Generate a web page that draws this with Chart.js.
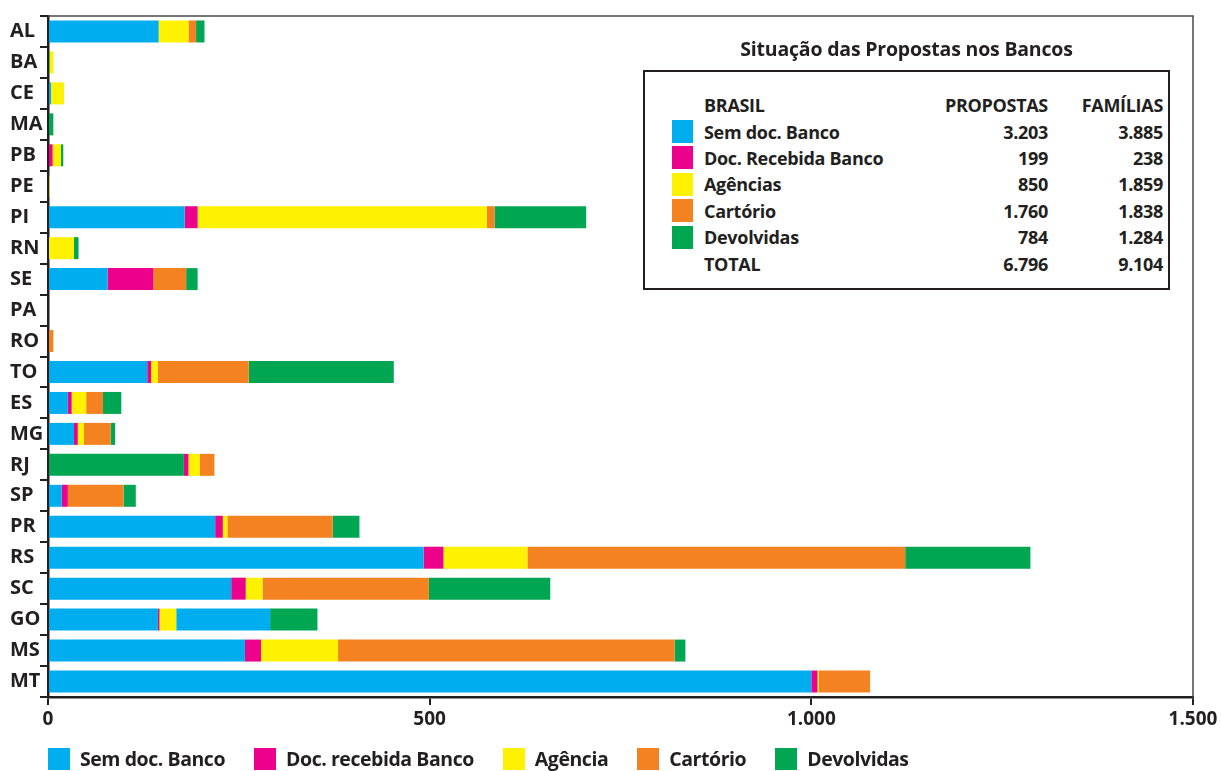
<!DOCTYPE html>
<html lang="pt-BR">
<head>
<meta charset="utf-8">
<title>Situação das Propostas nos Bancos</title>
<script src="https://cdn.jsdelivr.net/npm/chart.js@4.4.1/dist/chart.umd.min.js"></script>
<style>
  html, body { margin: 0; padding: 0; background: #fff; }
  body { width: 1221px; height: 771px; position: relative; overflow: hidden; font-family: "Open Sans", sans-serif; color: #231f20; }
  #grafico { position: absolute; left: 0; top: 0; width: 1221px; height: 771px; }
  #titulo { position: absolute; left: 643px; width: 527px; top: 35px; text-align: center; font-weight: 700; font-size: 19.5px; letter-spacing: -0.2px; }
  #quadro { position: absolute; left: 643px; top: 70px; width: 523px; height: 216px; border: 2px solid #231f20; background: #fff; }
  #quadro table { position: absolute; left: 27px; top: 20px; border-collapse: collapse; font-size: 18px; font-weight: 700; letter-spacing: -0.3px; }
  #quadro td { height: 26.4px; padding: 0; line-height: 1; }
  #quadro td.cor { width: 21px; padding: 0; }
  #quadro td.cor span { display: block; width: 21px; height: 23px; }
  #quadro td.rot { padding-left: 11px; width: 220px; }
  #quadro td.num { text-align: right; }
  #quadro td.c1 { width: 124px; }
  #quadro td.c2 { width: 115px; }
  #legenda { position: absolute; left: 48px; top: 748px; display: flex; font-size: 19.5px; font-weight: 700; letter-spacing: -0.45px; }
  #legenda .item { display: flex; align-items: center; margin-right: 29px; }
  #legenda .item span.q { width: 22px; height: 22px; margin-right: 10px; }
  #legenda .item span.t { line-height: 22px; }
</style>
</head>
<body>
<canvas id="grafico" width="1221" height="771"></canvas>
<div id="titulo">Situação das Propostas nos Bancos</div>
<div id="quadro"><table id="tabela"></table></div>
<div id="legenda"></div>
<script>
// estados, na ordem do eixo
const estados = ['AL', 'BA', 'CE', 'MA', 'PB', 'PE', 'PI', 'RN', 'SE', 'PA', 'RO', 'TO',
                 'ES', 'MG', 'RJ', 'SP', 'PR', 'RS', 'SC', 'GO', 'MS', 'MT'];

// propostas por situação
const semDoc      = [145, 0, 4, 0, 0, 0, 179, 0, 78, 0, 0, 130, 26, 34, 0, 18, 219, 492, 240, 144, 258, 1000];
const docRecebida = [0, 0, 0, 0, 6, 0, 17, 0, 60, 0, 0, 5, 5, 5, 6, 8, 10, 26, 19, 2, 21, 8];
const agencia     = [39, 5, 17, 0, 11, 2, 379, 34, 0, 0, 0, 9, 19, 8, 15, 0, 6, 110, 22, 22, 101, 2];
const cartorio    = [10, 0, 0, 0, 0, 0, 10, 0, 43, 0, 7, 119, 22, 35, 19, 73, 138, 495, 218, 123, 441, 67];
const devolvidas  = [11, 2, 0, 7, 3, 0, 120, 6, 15, 0, 0, 190, 24, 6, 178, 16, 35, 164, 159, 62, 14, 0];

// nesses estados as devolvidas vêm antes das demais na barra
const devolvidasAntes = ['BA', 'RJ'];
// em GO o trecho de cartório sai na cor azul
const cartorioAzul = ['GO'];

const xTicks = [0, 500, 1000, 1500];

// quadro resumo Brasil
const resumoRotulos   = ['Sem doc. Banco', 'Doc. Recebida Banco', 'Agências', 'Cartório', 'Devolvidas'];
const resumoPropostas = [3203, 199, 850, 1760, 784];
const resumoFamilias  = [3885, 238, 1859, 1838, 1284];

const azul = '#00aeef', magenta = '#ec008c', amarelo = '#fff200', laranja = '#f58220', verde = '#00a651';
const tinta = '#231f20';

function fmt(n) {
    return String(n).replace(/\B(?=(\d{3})+(?!\d))/g, '.');
}

var devolvidasInicio = estados.map(function(e, i) {
    return devolvidasAntes.indexOf(e) >= 0 ? devolvidas[i] : 0;
});
var devolvidasFim = estados.map(function(e, i) {
    return devolvidasAntes.indexOf(e) >= 0 ? 0 : devolvidas[i];
});
var corCartorio = estados.map(function(e) {
    return cartorioAzul.indexOf(e) >= 0 ? azul : laranja;
});

// moldura em cima e à direita da área do gráfico
const moldura = {
    id: 'moldura',
    afterDraw: function(chart) {
        const a = chart.chartArea;
        const ctx = chart.ctx;
        ctx.save();
        ctx.strokeStyle = '#4a4a4a';
        ctx.lineWidth = 1.5;
        ctx.beginPath();
        ctx.moveTo(a.left, a.top);
        ctx.lineTo(a.right, a.top);
        ctx.lineTo(a.right, a.bottom);
        ctx.stroke();
        ctx.restore();
    }
};

const ctx = document.getElementById('grafico').getContext('2d');
const grafico = new Chart(ctx, {
    type: 'bar',
    data: {
        labels: estados,
        datasets: [{
            label: 'Devolvidas',
            data: devolvidasInicio,
            backgroundColor: verde,
            semLegenda: true
        }, {
            label: 'Sem doc. Banco',
            data: semDoc,
            backgroundColor: azul
        }, {
            label: 'Doc. recebida Banco',
            data: docRecebida,
            backgroundColor: magenta
        }, {
            label: 'Agência',
            data: agencia,
            backgroundColor: amarelo
        }, {
            label: 'Cartório',
            data: cartorio,
            backgroundColor: corCartorio,
            corLegenda: laranja
        }, {
            label: 'Devolvidas',
            data: devolvidasFim,
            backgroundColor: verde
        }]
    },
    options: {
        indexAxis: 'y',
        responsive: false,
        animation: false,
        maintainAspectRatio: false,
        datasets: {
            bar: { categoryPercentage: 0.71, barPercentage: 1, borderWidth: 0 }
        },
        layout: { padding: { left: 10, right: 28, top: 12, bottom: 34 } },
        plugins: {
            legend: { display: false },
            tooltip: { enabled: false }
        },
        scales: {
            x: {
                stacked: true,
                min: 0,
                max: 1500,
                afterBuildTicks: function(scale) {
                    scale.ticks = xTicks.map(function(v) { return { value: v }; });
                },
                afterFit: function(scale) { scale.height = 40; },
                ticks: {
                    color: tinta,
                    padding: 3,
                    maxRotation: 0,
                    font: { family: '"Open Sans", sans-serif', size: 19, weight: 'bold' },
                    callback: function(v) { return fmt(v); }
                },
                grid: { drawOnChartArea: false, drawTicks: true, tickLength: 8, color: tinta, lineWidth: 2 },
                border: { color: tinta, width: 2.5 }
            },
            y: {
                stacked: true,
                afterFit: function(scale) { scale.width = 38; },
                ticks: {
                    color: tinta,
                    crossAlign: 'far',
                    padding: 4,
                    font: { family: '"Open Sans", sans-serif', size: 20, weight: 'bold' }
                },
                grid: { offset: true, drawOnChartArea: false, drawTicks: true, tickLength: 8, color: tinta, lineWidth: 2 },
                border: { color: tinta, width: 2.5 }
            }
        }
    },
    plugins: [moldura]
});

// legenda embaixo, a partir dos datasets
var legenda = document.getElementById('legenda');
grafico.data.datasets.forEach(function(ds) {
    if (ds.semLegenda) return;
    var item = document.createElement('div');
    item.className = 'item';
    item.innerHTML = '<span class="q" style="background:' + (ds.corLegenda || ds.backgroundColor) + '"></span>' +
                     '<span class="t">' + ds.label + '</span>';
    legenda.appendChild(item);
});

// quadro com os totais do Brasil
var cores = [azul, magenta, amarelo, laranja, verde];
var totalP = resumoPropostas.reduce(function(a, b) { return a + b; }, 0);
var totalF = resumoFamilias.reduce(function(a, b) { return a + b; }, 0);
var html = '<tr><td class="cor"></td><td class="rot">BRASIL</td>' +
           '<td class="num c1">PROPOSTAS</td><td class="num c2">FAMÍLIAS</td></tr>';
resumoRotulos.forEach(function(r, i) {
    html += '<tr><td class="cor"><span style="background:' + cores[i] + '"></span></td>' +
            '<td class="rot">' + r + '</td>' +
            '<td class="num c1">' + fmt(resumoPropostas[i]) + '</td>' +
            '<td class="num c2">' + fmt(resumoFamilias[i]) + '</td></tr>';
});
html += '<tr><td class="cor"></td><td class="rot">TOTAL</td>' +
        '<td class="num c1">' + fmt(totalP) + '</td><td class="num c2">' + fmt(totalF) + '</td></tr>';
document.getElementById('tabela').innerHTML = html;
</script>
</body>
</html>
